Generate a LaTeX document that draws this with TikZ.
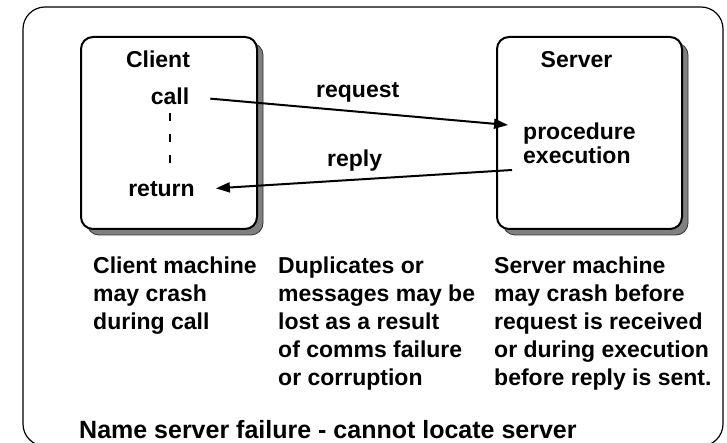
\documentclass[tikz,border=0pt]{standalone}
\usepackage{fontspec}
\setmainfont{Liberation Sans}
\usetikzlibrary{arrows.meta}

\begin{document}
\begin{tikzpicture}[x=1pt,y=-1pt,
	lbl/.style={font=\fontsize{23}{28}\selectfont\bfseries, inner sep=0pt},
	machine/.style={draw, line width=2pt, fill=white, rounded corners=12pt},
	shade/.style={draw=black!80, line width=0.8pt, fill=black!50, rounded corners=12pt},
	msg/.style={line width=2pt, -{Triangle[length=14pt,width=10pt]}}]
	\useasboundingbox (0,0) rectangle (727,443);
	\clip (0,0) rectangle (727,443);

	% Frame
	\draw[line width=1.2pt, rounded corners=22pt] (23,7) rectangle (723,446);

	% Machines
	\draw[shade] (87,43) rectangle (263,235);
	\draw[machine] (81,37) rectangle (257,229);
	\draw[shade] (503,43) rectangle (688,235);
	\draw[machine] (497,37) rectangle (682,229);

	% Client side
	\node[lbl, anchor=base] (client) at (158,68) {Client};
	\node[lbl, anchor=base] (call) at (170,105) {call};
	\node[lbl, anchor=base] (return) at (161.5,197) {return};
	\draw[line width=2.5pt, dash pattern=on 8pt off 13pt, shorten <=8pt, shorten >=9pt]
		(call.south) -- (call.south |- return.north);

	% Server side
	\node[lbl, anchor=base] (server) at (576.5,68) {Server};
	\node[lbl, anchor=base west, align=left, font=\fontsize{23}{23.5}\selectfont\bfseries]
		(exec) at (523,163.5) {procedure\\execution};
	\coordinate (reqin) at (508,125);
	\coordinate (repout) at (512,170);

	% Messages
	\draw[msg, shorten <=21pt] (call.east) -- (reqin);
	\draw[msg, shorten >=21pt] (repout) -- (return.east);
	\node[lbl, anchor=base west] (request) at (316,98) {request};
	\node[lbl, anchor=base west] (reply) at (327,167) {reply};

	% Failures (base = last line)
	\node[lbl, anchor=base west, align=left] (clifail) at (93,329)
		{Client machine\\may crash\\during call};
	\node[lbl, anchor=base west, align=left] (msgfail) at (278,385)
		{Duplicates or\\messages may be\\lost as a result\\of comms failure\\or corruption};
	\node[lbl, anchor=base west, align=left] (srvfail) at (494,385)
		{Server machine\\may crash before\\request is received\\or during execution\\before reply is sent.};
	\node[lbl, anchor=base west, font=\fontsize{25}{28}\selectfont\bfseries] (namefail) at (79,438)
		{Name server failure - cannot locate server};

\end{tikzpicture}
\end{document}
